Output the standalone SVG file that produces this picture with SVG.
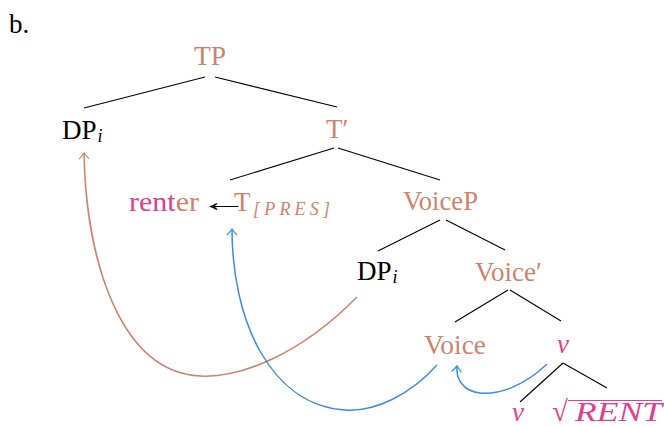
<svg xmlns="http://www.w3.org/2000/svg" width="664" height="427" viewBox="0 0 664 427">
<defs>
<style>
text{font-family:"Liberation Serif","DejaVu Serif",serif;font-size:27px;fill:#000}
.s{fill:#D0826A}
.p{fill:#E0408C}
.it{font-style:italic}
.sub{font-size:18px;font-style:italic}
.edge{stroke:#000;stroke-width:1.1;fill:none}
.mv{fill:none;stroke-width:1.5}
</style>
<marker id="ahS" markerWidth="12" markerHeight="12" refX="11" refY="6" orient="auto" markerUnits="userSpaceOnUse" viewBox="0 0 12 12"><path d="M5,1 Q8,4 11,6 Q8,8 5,11" fill="none" stroke="#D0826A" stroke-width="1.3"/></marker>
<marker id="ahB" markerWidth="12" markerHeight="12" refX="11" refY="6" orient="auto" markerUnits="userSpaceOnUse" viewBox="0 0 12 12"><path d="M5,1 Q8,4 11,6 Q8,8 5,11" fill="none" stroke="#3B8EE0" stroke-width="1.3"/></marker>
</defs>
<text x="9" y="33">b.</text>
<g id="connectors">
<path class="edge" d="M205,77 L84,108"/>
<path class="edge" d="M215,77 L337,107"/>
<path class="edge" d="M334,148 L230,180"/>
<path class="edge" d="M338,148 L440,180"/>
<path class="edge" d="M440,220 L378,251"/>
<path class="edge" d="M446,220 L505,250"/>
<path class="edge" d="M508,290 L455,322"/>
<path class="edge" d="M510,290 L561,321"/>
<path class="edge" d="M563,363 L520,402"/>
<path class="edge" d="M563,363 L607,388"/>
<path class="mv" stroke="#D0826A" marker-end="url(#ahS)" d="M357,297 C300,355 240,378 200,376 C120,372 86,260 84,153"/>
<path class="mv" stroke="#3B8EE0" marker-end="url(#ahB)" d="M437,365 C410,395 375,412 345,410 C270,405 232,320 232,229"/>
<path class="mv" stroke="#3B8EE0" marker-end="url(#ahB)" d="M547,364 C525,385 500,395 480,393 C462,391 456,378 457,366"/>
</g>
<g id="TP"><text class="s" x="210" y="65" text-anchor="middle" textLength="32" lengthAdjust="spacingAndGlyphs">TP</text></g>
<g id="DPi1"><text x="62" y="139">DP<tspan class="sub" dx="1" dy="3">i</tspan></text></g>
<g id="Tbar"><text class="s" x="326" y="138">T′</text></g>
<g id="renterT">
<text x="129" y="211" textLength="70" lengthAdjust="spacingAndGlyphs"><tspan class="p">rent</tspan><tspan class="s">er</tspan></text>
<text transform="translate(200,211) scale(1.8,1)" x="0" y="0">←</text>
<text class="s" x="234" y="211">T</text>
<text class="s sub" x="253" y="215" textLength="77" lengthAdjust="spacing">[PRES]</text>
</g>
<g id="VoiceP"><text class="s" x="403" y="210" textLength="75" lengthAdjust="spacingAndGlyphs">VoiceP</text></g>
<g id="DPi2"><text x="357" y="280">DP<tspan class="sub" dx="1" dy="3">i</tspan></text></g>
<g id="Voicebar"><text class="s" x="475" y="281">Voice′</text></g>
<g id="Voice"><text class="s" x="424" y="354" textLength="62" lengthAdjust="spacingAndGlyphs">Voice</text></g>
<g id="vP"><text class="p it" x="563" y="353" text-anchor="middle">v</text></g>
<g id="v"><text class="p it" x="518" y="421" text-anchor="middle">v</text></g>
<g id="root"><text class="p" x="552" y="421" style="font-size:29px">√</text><text class="p it" x="575" y="421" textLength="87" lengthAdjust="spacingAndGlyphs">RENT</text><path d="M568,400.5 H662" stroke="#E0408C" stroke-width="1.2"/></g>
</svg>
